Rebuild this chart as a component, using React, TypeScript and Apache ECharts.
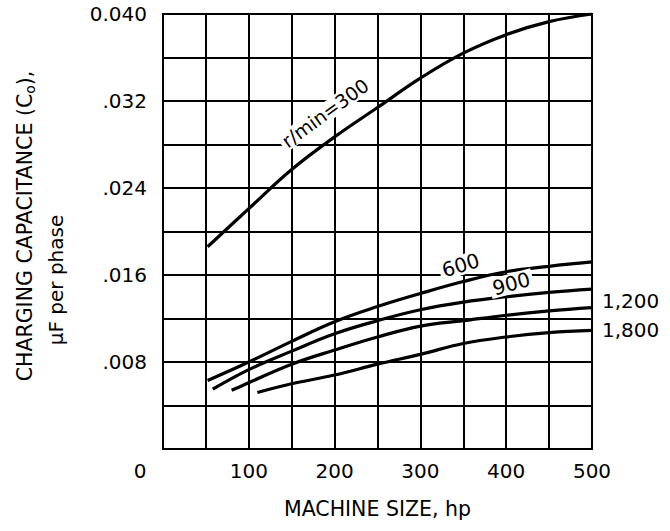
import React, { useEffect, useRef } from "react";
import * as echarts from "echarts";

// Machine size (hp) and charging capacitance (µF per phase) per speed curve
const hp300 = [52, 100, 150, 200, 250, 300, 350, 400, 450, 500];
const c300 = [0.0186, 0.0221, 0.0257, 0.0287, 0.0314, 0.0341, 0.0364, 0.0381, 0.0393, 0.04];

const hp600 = [52, 100, 150, 200, 250, 300, 350, 400, 450, 500];
const c600 = [0.0063, 0.008, 0.0099, 0.0117, 0.0131, 0.0143, 0.0154, 0.0163, 0.0168, 0.0172];

const hp900 = [58, 100, 150, 200, 250, 300, 350, 400, 450, 500];
const c900 = [0.0055, 0.0073, 0.009, 0.0106, 0.0118, 0.0128, 0.0135, 0.014, 0.0144, 0.0147];

const hp1200 = [80, 100, 150, 200, 250, 300, 350, 400, 450, 500];
const c1200 = [0.0054, 0.0061, 0.0078, 0.0091, 0.0103, 0.0113, 0.0118, 0.0123, 0.0127, 0.013];

const hp1800 = [110, 150, 200, 250, 300, 350, 400, 450, 500];
const c1800 = [0.0052, 0.006, 0.0068, 0.0078, 0.0087, 0.0097, 0.0103, 0.0107, 0.0109];

const curveNames = ["r/min=300", "600", "900", "1,200", "1,800"];

const xTickValues = [0, 100, 200, 300, 400, 500];
const xTickLabels = ["0", "100", "200", "300", "400", "500"];
const yTickValues = [0.008, 0.016, 0.024, 0.032, 0.04];
const yTickLabels = [".008", ".016", ".024", ".032", "0.040"];

const xTitle = "MACHINE SIZE, hp";
const yTitle1 = "CHARGING CAPACITANCE (C{sub|o}),";
const yTitle2 = "\u00B5F per phase";

const FONT = "DejaVu Sans";

const pairs = (xs: number[], ys: number[]) => xs.map((x, i) => [x, ys[i]]);

export default function App() {
  const ref = useRef<HTMLDivElement>(null);
  useEffect(() => {
    document.body.style.margin = "0";
    if (!ref.current) return;
    const chart = echarts.init(ref.current, undefined, { renderer: "svg" });

    const lineBase = {
      type: "line" as const,
      smooth: 0.4,
      symbol: "none",
      lineStyle: { color: "#000", width: 3.2 },
      z: 3,
    };
    const mpLabel = (text: string, coord: number[], rotate: number, size: number) => ({
      symbol: "circle",
      symbolSize: 0,
      silent: true,
      data: [{ coord, value: text }],
      label: {
        show: true,
        position: "inside",
        formatter: text,
        rotate,
        fontFamily: FONT,
        fontSize: size,
        color: "#000",
        backgroundColor: "#fff",
        padding: [0, 3],
      },
    });

    chart.setOption({
      animation: false,
      backgroundColor: "#fff",
      grid: {
        left: 163,
        right: 78,
        top: 14,
        bottom: 82,
        show: true,
        borderColor: "#000",
        borderWidth: 2,
      },
      xAxis: {
        type: "value",
        min: 0,
        max: 500,
        interval: 50,
        name: xTitle,
        nameLocation: "middle",
        nameGap: 49,
        nameTextStyle: { fontFamily: FONT, fontSize: 20.5, color: "#000" },
        axisLine: { show: true, lineStyle: { color: "#000", width: 2 } },
        axisTick: { show: false },
        splitLine: { show: true, lineStyle: { color: "#000", width: 2 } },
        axisLabel: {
          margin: 12,
          fontFamily: FONT,
          fontSize: 20,
          color: "#000",
          formatter: (v: number) => {
            const i = xTickValues.findIndex((t) => Math.abs(t - v) < 1e-6);
            if (i < 0) return "";
            if (v === 0) return "{zero|" + xTickLabels[i] + "}";
            return xTickLabels[i];
          },
          rich: {
            zero: { fontFamily: FONT, fontSize: 20, color: "#000", padding: [0, 46, 0, 0] },
          },
        },
      },
      yAxis: {
        type: "value",
        min: 0,
        max: 0.04,
        interval: 0.004,
        axisLine: { show: true, lineStyle: { color: "#000", width: 2 } },
        axisTick: { show: false },
        splitLine: { show: true, lineStyle: { color: "#000", width: 2 } },
        axisLabel: {
          margin: 16,
          fontFamily: FONT,
          fontSize: 20,
          color: "#000",
          padding: [8, 0, 0, 0],
          formatter: (v: number) => {
            const i = yTickValues.findIndex((t) => Math.abs(t - v) < 1e-7);
            return i >= 0 ? yTickLabels[i] : "";
          },
        },
      },
      graphic: [
        {
          type: "text",
          x: 25,
          y: 226,
          rotation: Math.PI / 2,
          style: {
            text: yTitle1,
            fontFamily: FONT,
            fontSize: 20.5,
            fill: "#000",
            align: "center",
            verticalAlign: "middle",
            rich: {
              sub: { fontFamily: FONT, fontSize: 14, fill: "#000", padding: [10, 0, 0, 0] },
            },
          },
        },
        {
          type: "text",
          x: 56,
          y: 280,
          rotation: Math.PI / 2,
          style: {
            text: yTitle2,
            fontFamily: FONT,
            fontSize: 20,
            fill: "#000",
            align: "center",
            verticalAlign: "middle",
          },
        },
      ],
      series: [
        {
          ...lineBase,
          name: curveNames[0],
          data: pairs(hp300, c300),
          markPoint: mpLabel(curveNames[0], [189, 0.0309], 36, 19),
        },
        {
          ...lineBase,
          name: curveNames[1],
          data: pairs(hp600, c600),
          markPoint: mpLabel(curveNames[1], [347, 0.0169], 17, 20),
        },
        {
          ...lineBase,
          name: curveNames[2],
          data: pairs(hp900, c900),
          markPoint: mpLabel(curveNames[2], [406, 0.0152], 15, 20),
        },
        {
          ...lineBase,
          name: curveNames[3],
          data: pairs(hp1200, c1200),
          endLabel: {
            show: true,
            formatter: curveNames[3],
            fontFamily: FONT,
            fontSize: 20,
            color: "#000",
            distance: 10,
            offset: [0, -7],
          },
        },
        {
          ...lineBase,
          name: curveNames[4],
          data: pairs(hp1800, c1800),
          endLabel: {
            show: true,
            formatter: curveNames[4],
            fontFamily: FONT,
            fontSize: 20,
            color: "#000",
            distance: 10,
            offset: [0, 0],
          },
        },
      ],
    });
    return () => chart.dispose();
  }, []);
  return <div ref={ref} style={{ width: 670, height: 531 }} />;
}
